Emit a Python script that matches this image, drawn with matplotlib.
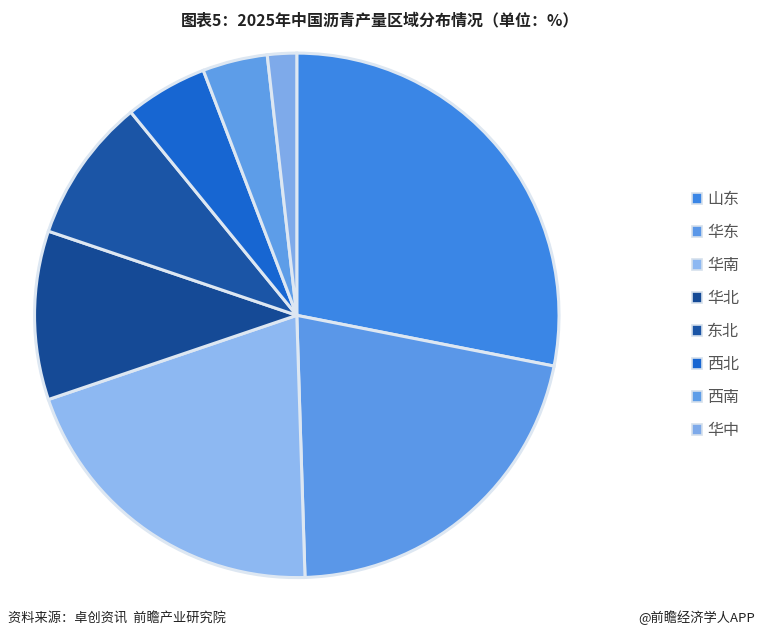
import matplotlib
matplotlib.use("Agg")
import matplotlib.pyplot as plt
from matplotlib.patches import Patch

plt.rcParams['font.family'] = ['Noto Sans CJK SC', 'DejaVu Sans']

regions = ['山东', '华东', '华南', '华北', '东北', '西北', '西南', '华中']
shares = [28.1, 21.4, 20.3, 10.4, 8.9, 5.1, 4.0, 1.8]
colors = ['#3a86e6', '#5a97e8', '#8db8f2', '#154a96', '#1b55a6',
          '#1766d2', '#5d9de8', '#7eaaea']

fig = plt.figure(figsize=(7.6, 6.39), dpi=100)
ax = fig.add_axes([0.042, 0.092, 0.697, 0.829])

ax.pie(shares, colors=colors, startangle=90, counterclock=False,
       wedgeprops=dict(edgecolor='#dde7f2', linewidth=2.2))
ax.set_xlim(-1.01, 1.01)
ax.set_ylim(-1.01, 1.01)
ax.set_aspect('equal')

# legend on the right
handles = [Patch(facecolor=c, edgecolor='#d5e0ec', linewidth=1.2) for c in colors]
leg = fig.legend(handles, regions, loc='center left',
                 bbox_to_anchor=(684 / 760, (639 - 315) / 639),
                 frameon=False, fontsize=11.5, handlelength=0.65, handleheight=0.65,
                 handletextpad=0.3, labelspacing=1.0, borderpad=0)
for t in leg.get_texts():
    t.set_color('#555555')

fig.text(0.5, 1 - 20 / 639, '图表5：2025年中国沥青产量区域分布情况（单位：%）',
         ha='center', va='center', fontsize=11.5, fontweight='bold', color='#222222')
fig.text(8 / 760, 1 - 618 / 639, '资料来源：卓创资讯  前瞻产业研究院',
         ha='left', va='center', fontsize=9.5, color='#222222')
fig.text(755 / 760, 1 - 618 / 639, '@前瞻经济学人APP',
         ha='right', va='center', fontsize=9.5, color='#222222')

fig.savefig('out.png', dpi=100)
